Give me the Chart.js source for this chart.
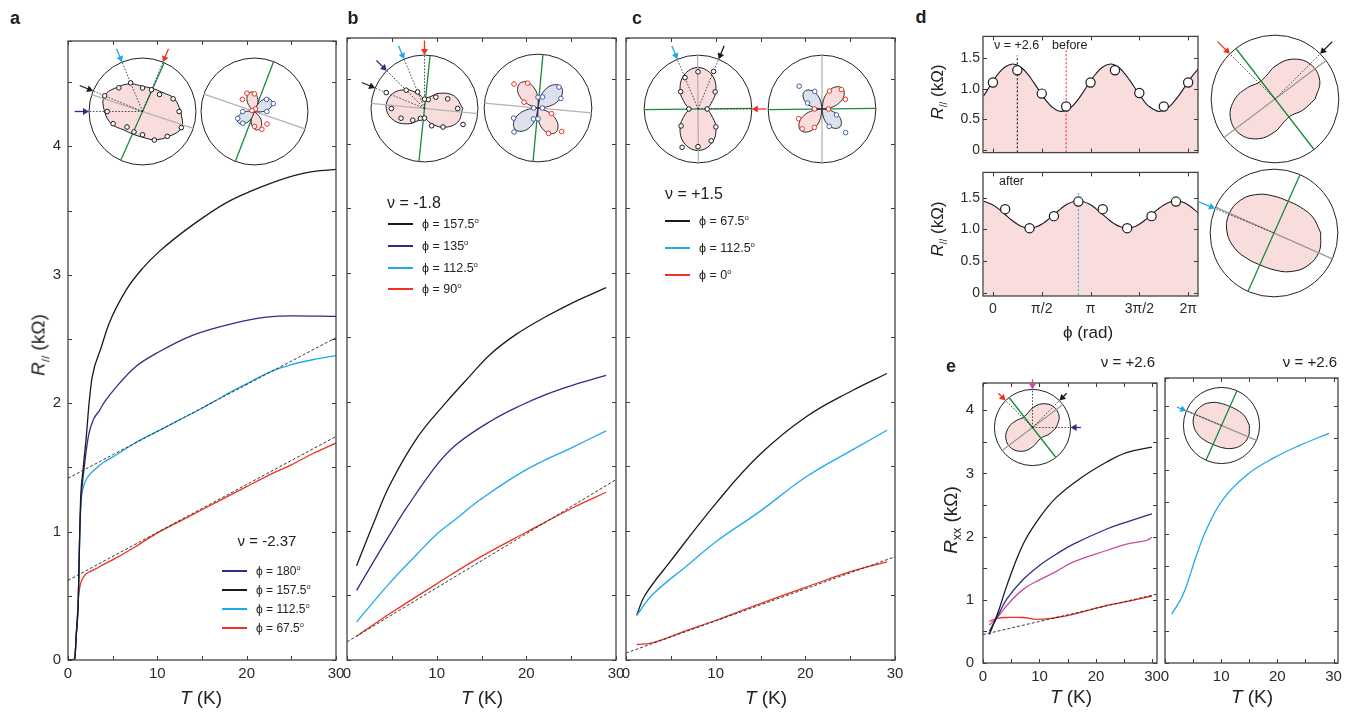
<!DOCTYPE html>
<html>
<head>
<meta charset="utf-8">
<script src="https://cdn.jsdelivr.net/npm/chart.js@4.4.1/dist/chart.umd.min.js"></script>
<style>
  body { margin: 0; background: #fff; width: 1347px; height: 713px; position: relative; overflow: hidden;
         font-family: "Liberation Sans", Arial, Helvetica, sans-serif; color: #222; }
  canvas { position: absolute; }
  .t { position: absolute; white-space: nowrap; line-height: 1; }
  .sw { position: absolute; height: 2px; width: 25px; }
  sub, sup { line-height: 0; }
</style>
</head>
<body>
<script>
// ---------- panel a : nu = -2.37, R// vs T ----------
const aT_red   = [0,0.5,0.75,0.93,1.15,1.3,1.6,2.0,2.5,3.1,4,5,7.5,10,12.5,15,17.5,20,22.5,25,27.5,30];
const aR_red   = [0,0,0.01,0.2,0.46,0.56,0.63,0.67,0.69,0.71,0.745,0.78,0.88,0.99,1.08,1.17,1.26,1.35,1.44,1.52,1.61,1.69];
const aT_cyan  = [0,0.5,0.75,0.93,1.15,1.3,1.45,1.7,2.0,2.5,3.1,4,5,7.5,10,12.5,15,17.5,20,22.5,25,27.5,30];
const aR_cyan  = [0,0,0.01,0.2,0.46,0.95,1.23,1.34,1.40,1.45,1.49,1.54,1.58,1.69,1.78,1.87,1.96,2.06,2.15,2.24,2.30,2.34,2.37];
const aT_black = [0,0.5,0.75,0.93,1.15,1.3,1.4,1.7,2.06,2.36,2.7,3.7,4.6,6.5,8.35,10.2,14,17.7,21.5,25.2,28.2,30];
const aR_black = [0,0,0.01,0.2,0.46,0.95,1.23,1.49,1.75,2.0,2.2,2.43,2.62,2.88,3.05,3.18,3.39,3.56,3.68,3.77,3.81,3.82];
const aT_navy  = [0,0.5,0.75,0.93,1.15,1.3,1.45,1.8,2.3,2.9,3.5,4.0,5.7,7.5,10.2,14,18.4,22.2,25.2,30];
const aR_navy  = [0,0,0.01,0.2,0.46,0.95,1.23,1.49,1.75,1.88,1.94,2.0,2.15,2.28,2.40,2.53,2.62,2.67,2.68,2.675];
const aFitT  = [0, 30];
const aFitLo = [0.62, 1.74];
const aFitHi = [1.415, 2.51];

// ---------- panel b : nu = -1.8 ----------
const bT_black = [1.07,2.9,4.8,7.8,11.1,13.7,16,18.9,21.9,25.2,28.9];
const bR_black = [0.73,1.05,1.36,1.72,2.0,2.2,2.37,2.525,2.65,2.77,2.885];
const bT_navy  = [1.07,4.8,6.65,10,12.2,16,19.3,22.3,25.2,28.9];
const bR_navy  = [0.54,0.975,1.18,1.51,1.67,1.85,1.97,2.06,2.13,2.205];
const bT_cyan  = [1.07,4.8,7.8,10,12.3,14.8,20,25.2,28.9];
const bR_cyan  = [0.295,0.60,0.82,0.975,1.10,1.24,1.475,1.65,1.775];
const bT_red   = [1.07,4.8,10,14.8,20,25.2,28.9];
const bR_red   = [0.185,0.36,0.59,0.795,0.99,1.18,1.30];
const bFitT = [0, 30];
const bFit  = [0.14, 1.398];

// ---------- panel c : nu = +1.5 ----------
const cT_black = [1.19,2.1,4.9,10.1,14.9,20.1,25.3,29.1];
const cR_black = [0.346,0.5,0.76,1.22,1.59,1.885,2.09,2.22];
const cT_cyan  = [1.19,3.0,6.8,10.1,14.9,20.1,25.3,29.1];
const cR_cyan  = [0.346,0.51,0.73,0.92,1.15,1.42,1.63,1.78];
const cT_red   = [1.19,3.0,6.4,10.1,14.9,20.1,25.3,29.1];
const cR_red   = [0.12,0.135,0.22,0.31,0.435,0.565,0.69,0.76];
const cFitT = [0, 30];
const cFit  = [0.054, 0.80];

// ---------- panel d : R// vs phi at nu = +2.6 ----------
const dPhiBefore = [-0.3,0,0.2,0.4,0.64,0.9,1.1,1.3,1.5,1.7,1.9,2.2,2.5,2.7,2.9,3.1,3.3,3.5,3.78,4.0,4.2,4.4,4.6,4.8,5.0,5.34,5.6,5.8,6.0,6.2,6.4,6.6];
const dFitBefore = [0.88,1.12,1.26,1.356,1.40,1.349,1.248,1.11,0.958,0.814,0.702,0.63,0.692,0.797,0.94,1.094,1.234,1.341,1.40,1.363,1.27,1.138,0.987,0.841,0.721,0.63,0.679,0.772,0.90,1.05,1.196,1.318];
const dPtPhiBefore = [0,0.785,1.571,2.356,3.142,3.927,4.712,5.498,6.283];
const dPtBefore    = [1.1,1.3,0.92,0.71,1.1,1.3,0.93,0.71,1.1];
const dPhiAfter = [-0.3,0,0.2,0.4,0.6,0.8,1.0,1.18,1.4,1.6,1.8,2.0,2.2,2.4,2.6,2.75,2.9,3.1,3.3,3.5,3.7,3.9,4.1,4.32,4.5,4.7,4.9,5.1,5.3,5.5,5.7,5.89,6.1,6.3,6.6];
const dFitAfter = [1.446,1.387,1.316,1.232,1.149,1.079,1.034,1.02,1.041,1.092,1.166,1.25,1.333,1.4,1.44,1.45,1.44,1.4,1.333,1.25,1.166,1.092,1.041,1.02,1.034,1.079,1.149,1.232,1.316,1.387,1.434,1.45,1.432,1.381,1.264];
const dPtPhiAfter = [0.393,1.178,1.963,2.749,3.534,4.32,5.105,5.89];
const dPtAfter    = [1.32,1.02,1.21,1.44,1.32,1.02,1.21,1.44];
const dMarkBefore = [[0.785, 1.54], [2.356, 1.62]];   // phi, top of guide line
const dMarkAfter  = [[2.75, 1.58]];
const dTickVals   = [0, 1.5708, 3.1416, 4.7124, 6.2832];
const dTickLabels = ['0', 'π/2', 'π', '3π/2', '2π'];

// ---------- panel e : Rxx vs T at nu = +2.6 ----------
const eT_black = [1.12,2.7,4.2,7.1,10.1,13,17.2,21.9,25.4,29.9];
const eR_black = [0.45,0.81,1.22,1.88,2.31,2.62,2.92,3.18,3.33,3.415];
const eT_navy  = [1.12,2.7,4.2,7.1,10.1,13,16,21.9,25.4,29.9];
const eR_navy  = [0.50,0.76,1.01,1.32,1.55,1.725,1.88,2.12,2.23,2.36];
const eT_mag   = [1.12,2.7,4.2,7.1,10.1,13,16,21.9,25.4,29,29.9];
const eR_mag   = [0.60,0.74,0.91,1.165,1.32,1.45,1.60,1.78,1.88,1.94,1.99];
const eT_red   = [1.12,2.7,4.2,7.1,9.5,13,16,21.9,25.4,29.9];
const eR_red   = [0.66,0.71,0.72,0.72,0.69,0.72,0.77,0.91,0.97,1.06];
const eFitT = [0, 30.8];
const eFit  = [0.45, 1.09];
const eT_cyan2 = [1.2,3.2,5.6,7.4,10.3,14.5,19.2,23.9,29.2];
const eR_cyan2 = [0.76,1.06,1.67,2.08,2.54,2.92,3.18,3.38,3.57];
const eTicks   = [0,5,10,15,20,25,30];

// ---------- polar insets (angle in degrees, radius normalised) ----------
const ANG16 = [0,22.5,45,67.5,90,112.5,135,157.5,180,202.5,225,247.5,270,292.5,315,337.5];
const a1Fit = [0.72,0.64,0.51,0.47,0.47,0.56,0.65,0.77,0.71,0.62,0.49,0.46,0.48,0.57,0.67,0.79];
const a1Pts = [0.685,0.62,0.45,0.44,0.44,0.58,0.626,0.765,0.66,0.595,0.41,0.415,0.436,0.578,0.656,0.786];
const a2PetalAng = [100,280,32,212];
const a2PetalLen = [0.37,0.35,0.38,0.37];
const a2RedAng  = [67.5,90,112.5,135,157.5,270,292.5,315];
const a2RedR    = [0.05,0.33,0.37,0.32,0.05,0.28,0.36,0.33];
const a2BlueAng = [0,22.5,45,180,202.5,225];
const a2BlueR   = [0.23,0.38,0.32,0.22,0.34,0.31];
const b1Fit = [0.716,0.605,0.403,0.229,0.184,0.295,0.497,0.671,0.716,0.605,0.403,0.229,0.184,0.295,0.497,0.671];
const b1Pts = [0.62,0.47,0.30,0.18,0.175,0.335,0.485,0.775,0.62,0.475,0.31,0.20,0.18,0.35,0.49,0.78];
const b2PetalAng = [125,305,43,223];
const b2PetalLen = [0.57,0.56,0.58,0.58];
const b2RedAng  = [112.5,135,157.5,292.5,315,337.5];
const b2RedR    = [0.50,0.63,0.28,0.51,0.62,0.27];
const b2BlueAng = [0,22.5,45,67.5,90,180,202.5,225,247.5,270];
const b2BlueR   = [0.08,0.46,0.55,0.22,0.2,0.08,0.49,0.63,0.22,0.2];
const c1Fit = [0.17,0.26,0.47,0.68,0.77,0.68,0.47,0.26,0.17,0.26,0.47,0.68,0.77,0.68,0.47,0.26];
const c1PtAng = [0,45,67.5,90,112.5,135,180,225,247.5,270,292.5,315];
const c1Pts   = [0.17,0.45,0.755,0.69,0.63,0.455,0.17,0.445,0.77,0.70,0.64,0.47];
const c2PetalAng = [45,225,135,315];
const c2PetalLen = [0.54,0.56,0.46,0.47];
const c2RedAng  = [0,22.5,45,67.5,180,202.5,225,247.5];
const c2RedR    = [0.12,0.47,0.51,0.36,0.14,0.47,0.52,0.37];
const c2BlueAng = [112.5,135,157.5,292.5,315,337.5];
const c2BlueR   = [0.355,0.6,0.29,0.35,0.62,0.29];
const beforeShape = [0.629,0.758,0.777,0.674,0.511,0.382,0.363,0.466,0.629,0.758,0.777,0.674,0.511,0.382,0.363,0.466];
const afterShape  = [0.733,0.655,0.577,0.545,0.577,0.655,0.733,0.765,0.733,0.655,0.577,0.545,0.577,0.655,0.733,0.765];
const PETAL_STEP    = [-45,-33.75,-22.5,-11.25,0,11.25,22.5,33.75,45];
const PETAL_PROFILE = [0,0.38,0.71,0.92,1,0.92,0.71,0.38,0];

const COL = { k: '#1a1a1a', n: '#2b2e86', c: '#1ea9ee', r: '#ee3124', m: '#c44ea2', g: '#1b8a3c', gr: '#b3b3b3' };
const PINK = '#f9dcdc', LILAC = '#dde1ee';

Chart.defaults.font.family = '"Liberation Sans", Arial, Helvetica, sans-serif';
Chart.defaults.color = '#2a2a2a';

function addCanvas(x, y, w, h) {
  const c = document.createElement('canvas');
  c.width = w; c.height = h;
  c.style.left = x + 'px'; c.style.top = y + 'px';
  c.style.width = w + 'px'; c.style.height = h + 'px';
  document.body.appendChild(c);
  return c;
}

const xy = (T, R) => T.map((t, i) => ({ x: t, y: R[i] }));
// steep low-T onset in panel a keeps the monotone spline; the rest use plain bezier smoothing
const curve = (T, R, col, mono) => Object.assign({ data: xy(T, R), showLine: true, borderColor: col, borderWidth: 1.3,
  pointRadius: 0 }, mono ? { cubicInterpolationMode: 'monotone' } : { tension: 0.4 });
const dashed = (T, R) => ({ data: xy(T, R), showLine: true, borderColor: '#222', borderWidth: 0.9,
  borderDash: [3, 2], pointRadius: 0 });

// box frame plus inward ticks on all four sides
const framePlugin = {
  id: 'frame',
  afterDraw(chart) {
    const { ctx, chartArea: a, scales } = chart;
    ctx.save();
    ctx.strokeStyle = '#3a3a3a';
    ctx.lineWidth = 1;
    ctx.beginPath();
    for (const t of scales.x.ticks) {
      const p = Math.round(scales.x.getPixelForValue(t.value)) + 0.5;
      ctx.moveTo(p, a.bottom); ctx.lineTo(p, a.bottom - 4);
      ctx.moveTo(p, a.top); ctx.lineTo(p, a.top + 4);
    }
    for (const t of scales.y.ticks) {
      const p = Math.round(scales.y.getPixelForValue(t.value)) + 0.5;
      ctx.moveTo(a.left, p); ctx.lineTo(a.left + 4, p);
      ctx.moveTo(a.right, p); ctx.lineTo(a.right - 4, p);
    }
    ctx.stroke();
    ctx.lineWidth = 1.3;
    ctx.strokeStyle = '#444';
    ctx.strokeRect(a.left, a.top, a.right - a.left, a.bottom - a.top);
    ctx.restore();
  }
};

function plot(area, o, datasets) {
  const [L, T, R, B] = area, padT = 8, padR = 14;
  const cv = addCanvas(L - o.yW, T - padT, R - L + o.yW + padR, B - T + padT + o.xH);
  const fixTicks = list => list ? (s => { s.ticks = list.map(v => ({ value: v })); }) : undefined;
  return new Chart(cv, {
    type: 'scatter',
    data: { datasets: datasets.slice().reverse() },
    options: {
      responsive: false, animation: false, devicePixelRatio: 1,
      layout: { padding: { top: padT, right: padR, left: 0, bottom: 0 }, autoPadding: false },
      plugins: { legend: { display: false }, tooltip: { enabled: false } },
      scales: {
        x: { type: 'linear', min: o.x[0], max: o.x[1],
             grid: { display: false, drawTicks: false }, border: { display: false },
             afterBuildTicks: fixTicks(o.xTicks),
             ticks: { stepSize: o.xStep, autoSkip: false, maxRotation: 0, padding: 5,
                      font: { size: o.font }, callback: o.xLabel },
             afterFit: s => { s.height = o.xH; } },
        y: { type: 'linear', min: o.y[0], max: o.y[1],
             grid: { display: false, drawTicks: false }, border: { display: false },
             afterBuildTicks: fixTicks(o.yTicks),
             ticks: { stepSize: o.yStep, autoSkip: false, padding: o.yPad || 4,
                      font: { size: o.font }, callback: o.yLabel },
             afterFit: s => { s.width = o.yW; } }
      }
    },
    plugins: [framePlugin]
  });
}

const tens = v => (v % 10 === 0 ? String(v) : '');
const ints = v => (Number.isInteger(v) ? String(v) : '');
const none = () => '';

// ---------- polar inset helpers ----------
function polar(a, r) { const t = a * Math.PI / 180; return { x: r * Math.cos(t), y: r * Math.sin(t) }; }

function closedShape(angs, radii, fillCol) {
  const pts = angs.map((a, i) => polar(a, radii[i]));
  pts.push(pts[0]);
  return { data: pts, showLine: true, tension: 0.4, fill: 'shape', backgroundColor: fillCol,
           borderColor: '#1a1a1a', borderWidth: 1, pointRadius: 0 };
}
function petal(ang, len, fillCol) {
  const pts = PETAL_STEP.map((s, i) => polar(ang + s, len * PETAL_PROFILE[i]));
  return { data: pts, showLine: true, tension: 0.4, fill: 'shape', backgroundColor: fillCol,
           borderColor: '#1a1a1a', borderWidth: 0.9, pointRadius: 0 };
}
function dots(angs, radii, col) {
  return { data: angs.map((a, i) => polar(a, radii[i])), showLine: false, pointRadius: 2.3,
           pointBorderWidth: 1, pointBackgroundColor: '#fff', pointBorderColor: col };
}
function diameter(a, col) {
  return { data: [polar(a, 1), polar(a + 180, 1)], showLine: true, borderColor: col, borderWidth: 1.3, pointRadius: 0 };
}
function ray(a) {
  return { data: [{ x: 0, y: 0 }, polar(a, 1)], showLine: true, borderColor: '#222', borderWidth: 0.8,
           borderDash: [1.6, 1.6], pointRadius: 0 };
}
function arrow(a, col, rad) {
  const t = a * Math.PI / 180;
  const rot = Math.atan2(-Math.cos(t), -Math.sin(t)) * 180 / Math.PI;
  return { data: [polar(a, 1.27), polar(a, 1 + 4 / rad)], showLine: true, borderColor: col, borderWidth: 1.3,
           pointRadius: [0, 4], pointStyle: 'triangle', pointRotation: [0, rot],
           pointBackgroundColor: col, pointBorderColor: col, pointBorderWidth: 0 };
}

const ringPlugin = {
  id: 'ring',
  beforeDatasetsDraw(chart) {
    const { ctx, scales: { x, y } } = chart;
    const cx = x.getPixelForValue(0), cy = y.getPixelForValue(0);
    const r = x.getPixelForValue(1) - cx;
    ctx.save();
    ctx.strokeStyle = '#222'; ctx.lineWidth = 1;
    ctx.beginPath(); ctx.arc(cx, cy, r, 0, Math.PI * 2); ctx.stroke();
    ctx.restore();
  }
};

function inset(cx, cy, rad, layers) {
  const ext = 1.3, S = Math.round(2 * ext * rad);
  const cv = addCanvas(Math.round(cx - S / 2), Math.round(cy - S / 2), S, S);
  new Chart(cv, {
    type: 'scatter',
    data: { datasets: layers.slice().reverse() },
    options: {
      responsive: false, animation: false, devicePixelRatio: 1,
      layout: { padding: 0, autoPadding: false },
      plugins: { legend: { display: false }, tooltip: { enabled: false } },
      scales: { x: { display: false, min: -ext, max: ext }, y: { display: false, min: -ext, max: ext } }
    },
    plugins: [ringPlugin]
  });
}

function petals(angs, lens, n) {
  return angs.map((a, i) => petal(a, lens[i], i < n ? PINK : LILAC));
}

// ---------- text ----------
function txt(html, x, y, o = {}) {
  const d = document.createElement('div');
  d.className = 't';
  d.innerHTML = html;
  d.style.left = x + 'px'; d.style.top = y + 'px';
  d.style.fontSize = (o.size || 12) + 'px';
  if (o.bold) d.style.fontWeight = 'bold';
  const ax = o.align === 'left' ? '0' : o.align === 'right' ? '-100%' : '-50%';
  d.style.transform = 'translate(' + ax + ',-50%)' + (o.rot ? ' rotate(' + o.rot + 'deg)' : '');
  document.body.appendChild(d);
}
function legend(x, ys, rows, size) {
  rows.forEach(([label, col], i) => {
    const s = document.createElement('div');
    s.className = 'sw';
    s.style.left = x + 'px'; s.style.top = (ys[i] - 1) + 'px';
    s.style.background = col;
    document.body.appendChild(s);
    txt(label, x + 34, ys[i], { size: size, align: 'left' });
  });
}
const deg = '<sup style="font-size:62%">o</sup>';
const Rpar = '<i>R</i><sub style="font-size:60%">//</sub> (kΩ)';

// ---------- panels a, b, c ----------
const mainOpts = { x: [0, 30], y: [0, 4.82], xStep: 5, yStep: 0.5, xH: 30, font: 15, xLabel: tens };

plot([68, 33, 336, 660], Object.assign({}, mainOpts, { yW: 40, yPad: 7, yLabel: ints }), [
  curve(aT_red, aR_red, COL.r, true),
  curve(aT_cyan, aR_cyan, COL.c, true),
  curve(aT_navy, aR_navy, COL.n, true),
  curve(aT_black, aR_black, COL.k, true),
  dashed(aFitT, aFitLo),
  dashed(aFitT, aFitHi)
]);
plot([347, 33, 616, 660], Object.assign({}, mainOpts, { yW: 10, yLabel: none }), [
  curve(bT_black, bR_black, COL.k),
  curve(bT_navy, bR_navy, COL.n),
  curve(bT_cyan, bR_cyan, COL.c),
  curve(bT_red, bR_red, COL.r),
  dashed(bFitT, bFit)
]);
plot([626, 33, 895, 660], Object.assign({}, mainOpts, { yW: 10, yLabel: none }), [
  curve(cT_black, cR_black, COL.k),
  curve(cT_cyan, cR_cyan, COL.c),
  curve(cT_red, cR_red, COL.r),
  dashed(cFitT, cFit)
]);

// ---------- panel d ----------
const dOpts = { x: [-0.32, 6.6], xTicks: dTickVals, yTicks: [0, 0.5, 1, 1.5], yW: 35, yPad: 3, font: 14,
                yLabel: v => (v === 0 ? '0' : v.toFixed(1)) };
const fitLine = (P, R) => ({ data: xy(P, R), showLine: true, borderColor: '#1a1a1a', borderWidth: 1.1,
  pointRadius: 0, tension: 0.4, fill: 'start', backgroundColor: PINK });
const bigDots = (P, R) => ({ data: xy(P, R), showLine: false, pointRadius: 4.6, pointBorderWidth: 1.2,
  pointBackgroundColor: '#fff', pointBorderColor: '#1a1a1a' });
const guide = ([p, top], col) => ({ data: [{ x: p, y: -0.1 }, { x: p, y: top }], showLine: true,
  borderColor: col, borderWidth: 1.1, borderDash: [2, 2], pointRadius: 0 });

plot([983, 33, 1198, 160], Object.assign({}, dOpts, { y: [-0.04, 1.85], xH: 4, xLabel: none }), [
  fitLine(dPhiBefore, dFitBefore),
  guide(dMarkBefore[0], COL.k),
  guide(dMarkBefore[1], COL.r),
  bigDots(dPtPhiBefore, dPtBefore)
]);
plot([983, 169, 1198, 296], Object.assign({}, dOpts, { y: [-0.05, 1.90], xH: 28, xLabel: (v, i) => dTickLabels[i] }), [
  fitLine(dPhiAfter, dFitAfter),
  guide(dMarkAfter[0], COL.c),
  bigDots(dPtPhiAfter, dPtAfter)
]);

// ---------- panel e ----------
const eOpts = { x: [0, 30.8], y: [0, 4.43], xTicks: eTicks, yStep: 0.5, xH: 30, font: 15, xLabel: tens };
plot([983, 373, 1157, 663], Object.assign({}, eOpts, { yW: 30, yPad: 9, yLabel: ints }), [
  curve(eT_red, eR_red, COL.r),
  curve(eT_mag, eR_mag, COL.m),
  curve(eT_navy, eR_navy, COL.n),
  curve(eT_black, eR_black, COL.k),
  dashed(eFitT, eFit)
]);
plot([1165, 373, 1338, 663], Object.assign({}, eOpts, { yW: 10, yLabel: none }), [
  curve(eT_cyan2, eR_cyan2, COL.c)
]);

// ---------- polar insets ----------
inset(142.7, 111, 53.5, [
  closedShape(ANG16, a1Fit, PINK),
  diameter(161.5, COL.gr), diameter(66, COL.g),
  ...[67.5, 112.5, 157.5, 180].map(ray),
  dots(ANG16, a1Pts, COL.k),
  arrow(67.5, COL.r, 53.5), arrow(112.5, COL.c, 53.5), arrow(157.5, COL.k, 53.5), arrow(180, COL.n, 53.5)
]);
inset(254.5, 111, 53.5, [
  diameter(161, COL.gr), diameter(69, COL.g),
  ...petals(a2PetalAng, a2PetalLen, 2),
  dots(a2RedAng, a2RedR, COL.r), dots(a2BlueAng, a2BlueR, '#3d5db0')
]);
inset(424, 108.3, 53.5, [
  closedShape(ANG16, b1Fit, PINK),
  diameter(174.6, COL.gr), diameter(84, COL.g),
  ...[90, 112.5, 135, 157.5].map(ray),
  dots(ANG16, b1Pts, COL.k),
  arrow(90, COL.r, 53.5), arrow(112.5, COL.c, 53.5), arrow(135, COL.n, 53.5), arrow(157.5, COL.k, 53.5)
]);
inset(538.3, 108.3, 54, [
  diameter(174.7, COL.gr), diameter(84.7, COL.g),
  ...petals(b2PetalAng, b2PetalLen, 2),
  dots(b2RedAng, b2RedR, COL.r), dots(b2BlueAng, b2BlueR, '#3d5db0')
]);
inset(697.5, 108.5, 54, [
  closedShape(ANG16, c1Fit, PINK),
  diameter(90.5, COL.gr), diameter(0.7, COL.g),
  ...[0, 67.5, 112.5].map(ray),
  dots(c1PtAng, c1Pts, COL.k),
  arrow(0, COL.r, 54), arrow(67.5, COL.k, 54), arrow(112.5, COL.c, 54)
]);
inset(822.2, 108.5, 54, [
  diameter(90, COL.gr), diameter(0.7, COL.g),
  ...petals(c2PetalAng, c2PetalLen, 2),
  dots(c2RedAng, c2RedR, COL.r), dots(c2BlueAng, c2BlueR, '#3d5db0')
]);
inset(1275.2, 99.2, 64, [
  closedShape(ANG16, beforeShape, PINK),
  diameter(37, '#999'), diameter(127.7, COL.g),
  ray(135), ray(45),
  arrow(135, COL.r, 64), arrow(45, COL.k, 64)
]);
inset(1273.7, 233.3, 64, [
  closedShape(ANG16, afterShape, PINK),
  diameter(156, '#999'), diameter(66, COL.g),
  ray(157.5),
  arrow(157.5, COL.c, 64)
]);
inset(1032.5, 427.8, 38, [
  closedShape(ANG16, beforeShape, PINK),
  diameter(37, '#999'), diameter(128, COL.g),
  ...[0, 45, 90, 135].map(ray),
  arrow(135, COL.r, 38), arrow(90, COL.m, 38), arrow(45, COL.k, 38), arrow(0, COL.n, 38)
]);
inset(1221.3, 425.8, 38, [
  closedShape(ANG16, afterShape, PINK),
  diameter(157, '#999'), diameter(66, COL.g),
  ray(157.5),
  arrow(157.5, COL.c, 38)
]);

// ---------- labels ----------
txt('a', 15, 18, { size: 18, bold: true });
txt('b', 353, 18, { size: 18, bold: true });
txt('c', 637, 18, { size: 18, bold: true });
txt('d', 921, 17, { size: 18, bold: true });
txt('e', 951, 366, { size: 18, bold: true });

txt(Rpar, 38, 345, { size: 19, rot: -90 });
txt('<i>T</i> (K)', 201, 697, { size: 19 });
txt('<i>T</i> (K)', 482, 697, { size: 19 });
txt('<i>T</i> (K)', 766, 697, { size: 19 });
txt('<i>T</i> (K)', 1071, 696, { size: 19 });
txt('<i>T</i> (K)', 1252, 696, { size: 19 });

txt('ν = -2.37', 267, 540, { size: 15 });
legend(222, [571, 590, 609, 628], [
  ['ϕ = 180' + deg, COL.n], ['ϕ = 157.5' + deg, COL.k], ['ϕ = 112.5' + deg, COL.c], ['ϕ = 67.5' + deg, COL.r]
], 12);
txt('ν = -1.8', 387, 203, { size: 16, align: 'left' });
legend(388, [224, 246, 268, 289], [
  ['ϕ = 157.5' + deg, COL.k], ['ϕ = 135' + deg, COL.n], ['ϕ = 112.5' + deg, COL.c], ['ϕ = 90' + deg, COL.r]
], 12.5);
txt('ν = +1.5', 665, 194, { size: 16, align: 'left' });
legend(665, [221, 248, 275], [
  ['ϕ = 67.5' + deg, COL.k], ['ϕ = 112.5' + deg, COL.c], ['ϕ = 0' + deg, COL.r]
], 12.5);

txt('ν = +2.6', 994, 45, { size: 12.5, align: 'left' });
txt('before', 1052, 45, { size: 12.5, align: 'left' });
txt('after', 999, 181, { size: 12.5, align: 'left' });
txt(Rpar, 937, 92, { size: 17, rot: -90 });
txt(Rpar, 937, 229, { size: 17, rot: -90 });
txt('ϕ (rad)', 1088, 332, { size: 17 });

txt('ν = +2.6', 1155, 361, { size: 15, align: 'right' });
txt('ν = +2.6', 1337, 361, { size: 15, align: 'right' });
txt('<i>R</i><sub style="font-size:65%">xx</sub> (kΩ)', 950, 520, { size: 19, rot: -90 });
</script>
</body>
</html>
